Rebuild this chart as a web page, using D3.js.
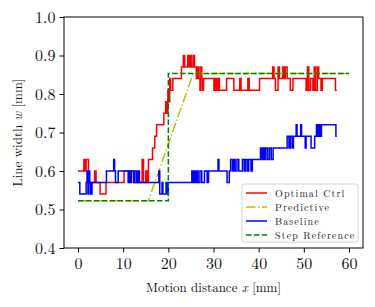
<!DOCTYPE html>
<html>
<head>
<meta charset="utf-8">
<script src="https://cdnjs.cloudflare.com/ajax/libs/d3/7.8.5/d3.min.js"></script>
<style>
  body { margin: 0; background: #fff; }
  svg text { font-family: "Latin Modern Roman", "DejaVu Serif", serif; fill: #111; }
  .tick text { font-size: 16px; }
  .axis path, .axis line { stroke: #000; }
</style>
</head>
<body>
<svg id="chart" width="375" height="307"></svg>
<script>
// step-after samples [x, w]
const optimalX = [0,1.3,1.6,1.8,2.3,2.5,3.7,4.0,4.9,6.2,10.2,12.3,14.2,14.5,15.0,15.3,15.6,16.5,17.0,17.4,19.0,19.4,19.7,19.9,20.1,20.3,20.5,21.0,22.9,23.3,23.6,24.3,24.6,24.9,25.2,25.6,25.8,26.2,26.5,26.8,27.0,27.2,27.4,27.6,27.8,30.1,30.3,30.5,30.7,30.9,31.1,31.3,32.9,34.5,35.8,36.1,37.6,37.9,38.7,40.2,43.1,43.4,43.7,44.3,44.6,45.3,45.6,45.9,46.3,47.0,47.6,50.5,50.8,51.1,51.5,52.0,52.3,52.6,53.0,53.3,53.8,54.1,57.0,57.3];
const optimalW = [0.60,0.63,0.60,0.63,0.60,0.57,0.60,0.57,0.54,0.57,0.60,0.57,0.63,0.57,0.60,0.57,0.63,0.66,0.69,0.72,0.75,0.78,0.75,0.81,0.78,0.84,0.81,0.84,0.87,0.90,0.87,0.90,0.87,0.90,0.87,0.90,0.87,0.84,0.87,0.84,0.81,0.87,0.84,0.81,0.84,0.81,0.84,0.81,0.84,0.81,0.84,0.81,0.84,0.81,0.84,0.81,0.84,0.81,0.81,0.84,0.87,0.84,0.81,0.87,0.84,0.87,0.84,0.87,0.84,0.81,0.84,0.81,0.87,0.81,0.84,0.81,0.87,0.81,0.87,0.84,0.81,0.84,0.81,0.81];

const baselineX = [0,0.4,1.8,2.0,2.2,2.4,2.6,2.8,3.1,6.3,7.9,8.1,8.3,8.9,11.1,11.3,11.6,11.8,12.3,12.6,13.0,13.3,13.6,17.9,18.1,18.6,18.8,19.5,19.7,20.0,25.2,25.4,25.7,26.0,26.3,26.6,27.0,27.4,28.0,28.6,28.9,31.0,31.2,33.0,33.5,33.8,34.2,34.5,34.8,35.2,35.6,36.4,36.8,37.1,37.5,37.8,38.3,38.6,40.4,40.7,41.0,41.3,41.6,42.0,42.4,42.8,43.2,46.3,46.7,47.0,47.4,47.7,48.3,48.5,49.3,49.5,50.3,50.5,51.6,52.4,52.8,53.1,53.3,53.6,53.9,57.1,57.3];
const baselineW = [0.57,0.54,0.57,0.60,0.54,0.60,0.57,0.54,0.57,0.60,0.63,0.60,0.57,0.60,0.57,0.60,0.57,0.60,0.57,0.60,0.57,0.60,0.57,0.60,0.54,0.57,0.54,0.57,0.54,0.57,0.60,0.57,0.60,0.57,0.60,0.57,0.60,0.57,0.60,0.57,0.60,0.63,0.60,0.57,0.60,0.63,0.60,0.63,0.60,0.63,0.60,0.63,0.60,0.63,0.60,0.63,0.60,0.63,0.66,0.63,0.66,0.63,0.66,0.63,0.66,0.63,0.66,0.69,0.66,0.69,0.66,0.69,0.72,0.69,0.72,0.69,0.66,0.69,0.66,0.69,0.72,0.69,0.72,0.69,0.72,0.69,0.69];

const predictiveX = [0, 15.6, 25.5, 60];
const predictiveW = [0.523, 0.523, 0.853, 0.853];

const stepX = [0, 20, 20, 60];
const stepW = [0.523, 0.523, 0.853, 0.853];

const xTicks = [0, 10, 20, 30, 40, 50, 60];
const yTicks = [0.4, 0.5, 0.6, 0.7, 0.8, 0.9, 1.0];

const legendNames = ['Optimal Ctrl', 'Predictive', 'Baseline', 'Step Reference'];

const MARGIN = { top: 17, right: 12, bottom: 59, left: 64 };
const width = 375 - MARGIN.left - MARGIN.right;
const height = 307 - MARGIN.top - MARGIN.bottom;

const $svg = d3.select('#chart');
const g = $svg.append('g').attr('transform', `translate(${MARGIN.left},${MARGIN.top})`);

const x = d3.scaleLinear().domain([-3.1, 63.1]).range([0, width]);
const y = d3.scaleLinear().domain([0.4, 1.0]).range([height, 0]);

const zip = (xs, ws) => xs.map((v, i) => [v, ws[i]]);

const stepLine = d3.line().x(d => x(d[0])).y(d => y(d[1])).curve(d3.curveStepAfter);
const plainLine = d3.line().x(d => x(d[0])).y(d => y(d[1]));

g.append('clipPath').attr('id', 'clip').append('rect').attr('width', width).attr('height', height);

const series = [
  { name: legendNames[0], data: zip(optimalX, optimalW), gen: stepLine, color: '#ff0000', dash: null },
  { name: legendNames[1], data: zip(predictiveX, predictiveW), gen: plainLine, color: '#bfbf00', dash: '9.6,2.4,1.5,2.4' },
  { name: legendNames[2], data: zip(baselineX, baselineW), gen: stepLine, color: '#0000ff', dash: null },
  { name: legendNames[3], data: zip(stepX, stepW), gen: plainLine, color: '#008000', dash: '5.5,2.4' }
];

series.forEach(s => {
  g.append('path')
    .datum(s.data)
    .attr('d', s.gen)
    .attr('fill', 'none')
    .attr('stroke', s.color)
    .attr('stroke-width', 1.5)
    .attr('stroke-dasharray', s.dash)
    .attr('clip-path', 'url(#clip)');
});

// axes
g.append('g').attr('class', 'axis')
  .attr('transform', `translate(0,${height})`)
  .call(d3.axisBottom(x).tickValues(xTicks).tickSize(4.5).tickPadding(5).tickFormat(d3.format('d')))
  .call(a => a.select('.domain').remove());

g.append('g').attr('class', 'axis')
  .call(d3.axisLeft(y).tickValues(yTicks).tickSize(4.5).tickPadding(4).tickFormat(d3.format('.1f')))
  .call(a => a.select('.domain').remove());

g.selectAll('.tick text').attr('fill', '#111');

g.append('rect')
  .attr('width', width).attr('height', height)
  .attr('fill', 'none').attr('stroke', '#000').attr('stroke-width', 1);

// axis labels
const xl = $svg.append('text')
  .attr('x', MARGIN.left + width / 2).attr('y', 292)
  .attr('text-anchor', 'middle').attr('font-size', 13);
xl.append('tspan').text('Motion distance ');
xl.append('tspan').attr('font-style', 'italic').text('x');
xl.append('tspan').text(' [mm]');

const yl = $svg.append('text')
  .attr('transform', `translate(22,${MARGIN.top + height / 2}) rotate(-90)`)
  .attr('text-anchor', 'middle').attr('font-size', 13);
yl.append('tspan').text('Line width ');
yl.append('tspan').attr('font-style', 'italic').text('w');
yl.append('tspan').text(' [mm]');

// legend
const legend = $svg.append('g').attr('transform', 'translate(242,184)');
legend.append('rect')
  .attr('width', 116).attr('height', 58).attr('rx', 2.5)
  .attr('fill', '#fff').attr('fill-opacity', 0.8)
  .attr('stroke', '#d5d5d5').attr('stroke-width', 1);

series.forEach((s, i) => {
  const row = legend.append('g').attr('transform', `translate(0,${9 + i * 14})`);
  row.append('line')
    .attr('x1', 4).attr('x2', 25).attr('y1', 0).attr('y2', 0)
    .attr('stroke', s.color).attr('stroke-width', 1.5)
    .attr('stroke-dasharray', s.dash);
  row.append('text')
    .attr('x', 33).attr('y', 3.5)
    .attr('font-size', 10).attr('letter-spacing', 1.1)
    .text(s.name);
});
</script>
</body>
</html>
